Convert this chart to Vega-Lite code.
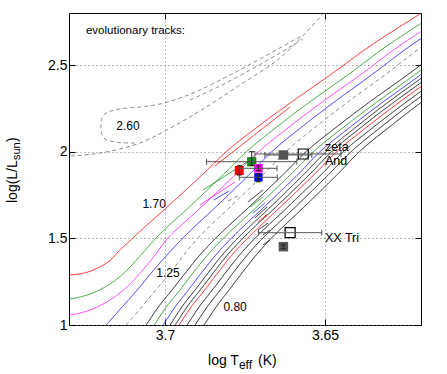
{
"$schema":"https://vega.github.io/schema/vega-lite/v6.json",
"width":352,"height":312,"autosize":"none",
"padding":{"left":69,"top":13,"right":26,"bottom":49},
"config":{"view":{"stroke":"black","strokeWidth":1},"font":"Liberation Sans"},
"datasets":{
"tracks":[
{"mass":"1.70","part":"main","i":0,"T":3.736,"L":1.286},{"mass":"1.70","part":"main","i":1,"T":3.7300,"L":1.2885},{"mass":"1.70","part":"main","i":2,"T":3.7241,"L":1.3058},{"mass":"1.70","part":"main","i":3,"T":3.7178,"L":1.3635},{"mass":"1.70","part":"main","i":4,"T":3.7141,"L":1.4327},{"mass":"1.70","part":"main","i":5,"T":3.7100,"L":1.5019},{"mass":"1.70","part":"main","i":6,"T":3.7053,"L":1.5827},{"mass":"1.70","part":"main","i":7,"T":3.7000,"L":1.6692},{"mass":"1.70","part":"main","i":8,"T":3.6881,"L":1.8712},{"mass":"1.70","part":"main","i":9,"T":3.6806,"L":2.0039},{"mass":"1.70","part":"main","i":10,"T":3.6703,"L":2.1539},{"mass":"1.70","part":"main","i":11,"T":3.6609,"L":2.2808},{"mass":"1.70","part":"main","i":12,"T":3.6484,"L":2.4423},{"mass":"1.70","part":"main","i":13,"T":3.6359,"L":2.6096},{"mass":"1.70","part":"main","i":14,"T":3.6203,"L":2.7943},
{"mass":"1.60","part":"main","i":0,"T":3.736,"L":1.148},{"mass":"1.60","part":"main","i":1,"T":3.7300,"L":1.150},{"mass":"1.60","part":"main","i":2,"T":3.7234,"L":1.1788},{"mass":"1.60","part":"main","i":3,"T":3.7172,"L":1.2365},{"mass":"1.60","part":"main","i":4,"T":3.7125,"L":1.3058},{"mass":"1.60","part":"main","i":5,"T":3.7078,"L":1.3981},{"mass":"1.60","part":"main","i":6,"T":3.7028,"L":1.5019},{"mass":"1.60","part":"main","i":7,"T":3.6983,"L":1.5827},{"mass":"1.60","part":"main","i":8,"T":3.6931,"L":1.6692},{"mass":"1.60","part":"main","i":9,"T":3.6816,"L":1.8712},{"mass":"1.60","part":"main","i":10,"T":3.6743,"L":2.0039},{"mass":"1.60","part":"main","i":11,"T":3.6643,"L":2.1539},{"mass":"1.60","part":"main","i":12,"T":3.6552,"L":2.2808},{"mass":"1.60","part":"main","i":13,"T":3.6429,"L":2.4423},{"mass":"1.60","part":"main","i":14,"T":3.6307,"L":2.6096},{"mass":"1.60","part":"main","i":15,"T":3.6154,"L":2.7943},
{"mass":"1.50","part":"main","i":0,"T":3.736,"L":1.056},{"mass":"1.50","part":"main","i":1,"T":3.7300,"L":1.0577},{"mass":"1.50","part":"main","i":2,"T":3.7234,"L":1.0865},{"mass":"1.50","part":"main","i":3,"T":3.7172,"L":1.1442},{"mass":"1.50","part":"main","i":4,"T":3.7119,"L":1.2192},{"mass":"1.50","part":"main","i":5,"T":3.7072,"L":1.3115},{"mass":"1.50","part":"main","i":6,"T":3.7031,"L":1.4038},{"mass":"1.50","part":"main","i":7,"T":3.6991,"L":1.5019},{"mass":"1.50","part":"main","i":8,"T":3.6945,"L":1.5827},{"mass":"1.50","part":"main","i":9,"T":3.6893,"L":1.6692},{"mass":"1.50","part":"main","i":10,"T":3.6778,"L":1.8712},{"mass":"1.50","part":"main","i":11,"T":3.6705,"L":2.0039},{"mass":"1.50","part":"main","i":12,"T":3.6604,"L":2.1539},{"mass":"1.50","part":"main","i":13,"T":3.6513,"L":2.2808},{"mass":"1.50","part":"main","i":14,"T":3.6390,"L":2.4423},{"mass":"1.50","part":"main","i":15,"T":3.6268,"L":2.6096},{"mass":"1.50","part":"main","i":16,"T":3.6114,"L":2.7943},
{"mass":"1.40","part":"main","i":0,"T":3.7184,"L":1.0},{"mass":"1.40","part":"main","i":1,"T":3.7134,"L":1.1038},{"mass":"1.40","part":"main","i":2,"T":3.7084,"L":1.2077},{"mass":"1.40","part":"main","i":3,"T":3.7038,"L":1.3115},{"mass":"1.40","part":"main","i":4,"T":3.6991,"L":1.4096},{"mass":"1.40","part":"main","i":5,"T":3.6944,"L":1.5019},{"mass":"1.40","part":"main","i":6,"T":3.6899,"L":1.5827},{"mass":"1.40","part":"main","i":7,"T":3.6848,"L":1.6692},{"mass":"1.40","part":"main","i":8,"T":3.6735,"L":1.8712},{"mass":"1.40","part":"main","i":9,"T":3.6664,"L":2.0039},{"mass":"1.40","part":"main","i":10,"T":3.6565,"L":2.1539},{"mass":"1.40","part":"main","i":11,"T":3.6475,"L":2.2808},{"mass":"1.40","part":"main","i":12,"T":3.6355,"L":2.4423},{"mass":"1.40","part":"main","i":13,"T":3.6234,"L":2.6096},{"mass":"1.40","part":"main","i":14,"T":3.6083,"L":2.7943},
{"mass":"1.25","part":"main","i":0,"T":3.7122,"L":1.0},{"mass":"1.25","part":"main","i":1,"T":3.7078,"L":1.0923},{"mass":"1.25","part":"main","i":2,"T":3.7031,"L":1.1962},{"mass":"1.25","part":"main","i":3,"T":3.6984,"L":1.300},{"mass":"1.25","part":"main","i":4,"T":3.6941,"L":1.4038},{"mass":"1.25","part":"main","i":5,"T":3.6897,"L":1.5019},{"mass":"1.25","part":"main","i":6,"T":3.6853,"L":1.5827},{"mass":"1.25","part":"main","i":7,"T":3.6803,"L":1.6692},{"mass":"1.25","part":"main","i":8,"T":3.6691,"L":1.8712},{"mass":"1.25","part":"main","i":9,"T":3.6620,"L":2.0039},{"mass":"1.25","part":"main","i":10,"T":3.6522,"L":2.1539},{"mass":"1.25","part":"main","i":11,"T":3.6433,"L":2.2808},{"mass":"1.25","part":"main","i":12,"T":3.6313,"L":2.4423},{"mass":"1.25","part":"main","i":13,"T":3.6194,"L":2.6096},{"mass":"1.25","part":"main","i":14,"T":3.6044,"L":2.7943},
{"mass":"1.20","part":"main","i":0,"T":3.7059,"L":1.0},{"mass":"1.20","part":"main","i":1,"T":3.7016,"L":1.1154},{"mass":"1.20","part":"main","i":2,"T":3.6978,"L":1.2019},{"mass":"1.20","part":"main","i":3,"T":3.6934,"L":1.3058},{"mass":"1.20","part":"main","i":4,"T":3.6891,"L":1.4038},{"mass":"1.20","part":"main","i":5,"T":3.6841,"L":1.5019},{"mass":"1.20","part":"main","i":6,"T":3.6795,"L":1.5827},{"mass":"1.20","part":"main","i":7,"T":3.6744,"L":1.6692},{"mass":"1.20","part":"main","i":8,"T":3.6629,"L":1.8712},{"mass":"1.20","part":"main","i":9,"T":3.6557,"L":2.0039},{"mass":"1.20","part":"main","i":10,"T":3.6456,"L":2.1539},{"mass":"1.20","part":"main","i":11,"T":3.6365,"L":2.2808},{"mass":"1.20","part":"main","i":12,"T":3.6243,"L":2.4423},{"mass":"1.20","part":"main","i":13,"T":3.6122,"L":2.6096},
{"mass":"1.15","part":"main","i":0,"T":3.7034,"L":1.0},{"mass":"1.15","part":"main","i":1,"T":3.6991,"L":1.1154},{"mass":"1.15","part":"main","i":2,"T":3.6953,"L":1.2019},{"mass":"1.15","part":"main","i":3,"T":3.6910,"L":1.3058},{"mass":"1.15","part":"main","i":4,"T":3.6867,"L":1.4038},{"mass":"1.15","part":"main","i":5,"T":3.6817,"L":1.5019},{"mass":"1.15","part":"main","i":6,"T":3.6771,"L":1.5827},{"mass":"1.15","part":"main","i":7,"T":3.6720,"L":1.6692},{"mass":"1.15","part":"main","i":8,"T":3.6606,"L":1.8712},{"mass":"1.15","part":"main","i":9,"T":3.6534,"L":2.0039},{"mass":"1.15","part":"main","i":10,"T":3.6433,"L":2.1539},{"mass":"1.15","part":"main","i":11,"T":3.6342,"L":2.2808},{"mass":"1.15","part":"main","i":12,"T":3.6221,"L":2.4423},{"mass":"1.15","part":"main","i":13,"T":3.6100,"L":2.6096},
{"mass":"1.10","part":"main","i":0,"T":3.7006,"L":1.0},{"mass":"1.10","part":"main","i":1,"T":3.6964,"L":1.1154},{"mass":"1.10","part":"main","i":2,"T":3.6927,"L":1.2019},{"mass":"1.10","part":"main","i":3,"T":3.6884,"L":1.3058},{"mass":"1.10","part":"main","i":4,"T":3.6841,"L":1.4038},{"mass":"1.10","part":"main","i":5,"T":3.6792,"L":1.5019},{"mass":"1.10","part":"main","i":6,"T":3.6747,"L":1.5827},{"mass":"1.10","part":"main","i":7,"T":3.6697,"L":1.6692},{"mass":"1.10","part":"main","i":8,"T":3.6583,"L":1.8712},{"mass":"1.10","part":"main","i":9,"T":3.6513,"L":2.0039},{"mass":"1.10","part":"main","i":10,"T":3.6413,"L":2.1539},{"mass":"1.10","part":"main","i":11,"T":3.6323,"L":2.2808},{"mass":"1.10","part":"main","i":12,"T":3.6202,"L":2.4423},{"mass":"1.10","part":"main","i":13,"T":3.6083,"L":2.6096},
{"mass":"1.05","part":"main","i":0,"T":3.6984,"L":1.0},{"mass":"1.05","part":"main","i":1,"T":3.6943,"L":1.1154},{"mass":"1.05","part":"main","i":2,"T":3.6906,"L":1.2019},{"mass":"1.05","part":"main","i":3,"T":3.6863,"L":1.3058},{"mass":"1.05","part":"main","i":4,"T":3.6821,"L":1.4038},{"mass":"1.05","part":"main","i":5,"T":3.6772,"L":1.5019},{"mass":"1.05","part":"main","i":6,"T":3.6727,"L":1.5827},{"mass":"1.05","part":"main","i":7,"T":3.6677,"L":1.6692},{"mass":"1.05","part":"main","i":8,"T":3.6565,"L":1.8712},{"mass":"1.05","part":"main","i":9,"T":3.6494,"L":2.0039},{"mass":"1.05","part":"main","i":10,"T":3.6395,"L":2.1539},{"mass":"1.05","part":"main","i":11,"T":3.6306,"L":2.2808},{"mass":"1.05","part":"main","i":12,"T":3.6186,"L":2.4423},{"mass":"1.05","part":"main","i":13,"T":3.6067,"L":2.6096},
{"mass":"1.00","part":"main","i":0,"T":3.6968,"L":1.0},{"mass":"1.00","part":"main","i":1,"T":3.6927,"L":1.1154},{"mass":"1.00","part":"main","i":2,"T":3.6890,"L":1.2019},{"mass":"1.00","part":"main","i":3,"T":3.6847,"L":1.3058},{"mass":"1.00","part":"main","i":4,"T":3.6805,"L":1.4038},{"mass":"1.00","part":"main","i":5,"T":3.6756,"L":1.5019},{"mass":"1.00","part":"main","i":6,"T":3.6711,"L":1.5827},{"mass":"1.00","part":"main","i":7,"T":3.6660,"L":1.6692},{"mass":"1.00","part":"main","i":8,"T":3.6547,"L":1.8712},{"mass":"1.00","part":"main","i":9,"T":3.6477,"L":2.0039},{"mass":"1.00","part":"main","i":10,"T":3.6378,"L":2.1539},{"mass":"1.00","part":"main","i":11,"T":3.6288,"L":2.2808},{"mass":"1.00","part":"main","i":12,"T":3.6167,"L":2.4423},{"mass":"1.00","part":"main","i":13,"T":3.6048,"L":2.6096},
{"mass":"0.95","part":"main","i":0,"T":3.6956,"L":1.0},{"mass":"0.95","part":"main","i":1,"T":3.6914,"L":1.1154},{"mass":"0.95","part":"main","i":2,"T":3.6876,"L":1.2019},{"mass":"0.95","part":"main","i":3,"T":3.6833,"L":1.3058},{"mass":"0.95","part":"main","i":4,"T":3.6791,"L":1.4038},{"mass":"0.95","part":"main","i":5,"T":3.6741,"L":1.5019},{"mass":"0.95","part":"main","i":6,"T":3.6696,"L":1.5827},{"mass":"0.95","part":"main","i":7,"T":3.6646,"L":1.6692},{"mass":"0.95","part":"main","i":8,"T":3.6532,"L":1.8712},{"mass":"0.95","part":"main","i":9,"T":3.6461,"L":2.0039},{"mass":"0.95","part":"main","i":10,"T":3.6361,"L":2.1539},{"mass":"0.95","part":"main","i":11,"T":3.6271,"L":2.2808},{"mass":"0.95","part":"main","i":12,"T":3.6150,"L":2.4423},{"mass":"0.95","part":"main","i":13,"T":3.6030,"L":2.6096},
{"mass":"0.90","part":"main","i":0,"T":3.6931,"L":1.0},{"mass":"0.90","part":"main","i":1,"T":3.6889,"L":1.1154},{"mass":"0.90","part":"main","i":2,"T":3.6852,"L":1.2019},{"mass":"0.90","part":"main","i":3,"T":3.6809,"L":1.3058},{"mass":"0.90","part":"main","i":4,"T":3.6767,"L":1.4038},{"mass":"0.90","part":"main","i":5,"T":3.6718,"L":1.5019},{"mass":"0.90","part":"main","i":6,"T":3.6673,"L":1.5827},{"mass":"0.90","part":"main","i":7,"T":3.6623,"L":1.6692},{"mass":"0.90","part":"main","i":8,"T":3.6510,"L":1.8712},{"mass":"0.90","part":"main","i":9,"T":3.6440,"L":2.0039},{"mass":"0.90","part":"main","i":10,"T":3.6340,"L":2.1539},{"mass":"0.90","part":"main","i":11,"T":3.6250,"L":2.2808},{"mass":"0.90","part":"main","i":12,"T":3.6130,"L":2.4423},{"mass":"0.90","part":"main","i":13,"T":3.6011,"L":2.6096},
{"mass":"0.85","part":"main","i":0,"T":3.6906,"L":1.0},{"mass":"0.85","part":"main","i":1,"T":3.6864,"L":1.1154},{"mass":"0.85","part":"main","i":2,"T":3.6827,"L":1.2019},{"mass":"0.85","part":"main","i":3,"T":3.6785,"L":1.3058},{"mass":"0.85","part":"main","i":4,"T":3.6743,"L":1.4038},{"mass":"0.85","part":"main","i":5,"T":3.6694,"L":1.5019},{"mass":"0.85","part":"main","i":6,"T":3.6649,"L":1.5827},{"mass":"0.85","part":"main","i":7,"T":3.6599,"L":1.6692},{"mass":"0.85","part":"main","i":8,"T":3.6487,"L":1.8712},{"mass":"0.85","part":"main","i":9,"T":3.6416,"L":2.0039},{"mass":"0.85","part":"main","i":10,"T":3.6317,"L":2.1539},{"mass":"0.85","part":"main","i":11,"T":3.6228,"L":2.2808},{"mass":"0.85","part":"main","i":12,"T":3.6107,"L":2.4423},{"mass":"0.85","part":"main","i":13,"T":3.5989,"L":2.6096},
{"mass":"0.80","part":"main","i":0,"T":3.6878,"L":1.0},{"mass":"0.80","part":"main","i":1,"T":3.6836,"L":1.1154},{"mass":"0.80","part":"main","i":2,"T":3.6800,"L":1.2019},{"mass":"0.80","part":"main","i":3,"T":3.6757,"L":1.3058},{"mass":"0.80","part":"main","i":4,"T":3.6715,"L":1.4038},{"mass":"0.80","part":"main","i":5,"T":3.6667,"L":1.5019},{"mass":"0.80","part":"main","i":6,"T":3.6622,"L":1.5827},{"mass":"0.80","part":"main","i":7,"T":3.6572,"L":1.6692},{"mass":"0.80","part":"main","i":8,"T":3.6460,"L":1.8712},{"mass":"0.80","part":"main","i":9,"T":3.6390,"L":2.0039},{"mass":"0.80","part":"main","i":10,"T":3.6291,"L":2.1539},{"mass":"0.80","part":"main","i":11,"T":3.6202,"L":2.2808},{"mass":"0.80","part":"main","i":12,"T":3.6082,"L":2.4423},{"mass":"0.80","part":"main","i":13,"T":3.5963,"L":2.6096},
{"mass":"2.60","part":"a","i":0,"T":3.736,"L":1.972},{"mass":"2.60","part":"a","i":1,"T":3.7300,"L":1.975},{"mass":"2.60","part":"a","i":2,"T":3.7250,"L":1.9808},{"mass":"2.60","part":"a","i":3,"T":3.7203,"L":1.9923},{"mass":"2.60","part":"a","i":4,"T":3.7141,"L":2.0154},{"mass":"2.60","part":"a","i":5,"T":3.7078,"L":2.05},{"mass":"2.60","part":"a","i":6,"T":3.7000,"L":2.1192},{"mass":"2.60","part":"a","i":7,"T":3.6891,"L":2.2346},{"mass":"2.60","part":"a","i":8,"T":3.6766,"L":2.3846},{"mass":"2.60","part":"a","i":9,"T":3.6641,"L":2.5404},{"mass":"2.60","part":"a","i":10,"T":3.6506,"L":2.7943},
{"mass":"2.60","part":"b","i":0,"T":3.7094,"L":2.05},{"mass":"2.60","part":"b","i":1,"T":3.7156,"L":2.0558},{"mass":"2.60","part":"b","i":2,"T":3.7191,"L":2.0788},{"mass":"2.60","part":"b","i":3,"T":3.7200,"L":2.1365},{"mass":"2.60","part":"b","i":4,"T":3.7197,"L":2.1942},{"mass":"2.60","part":"b","i":5,"T":3.7184,"L":2.2231},{"mass":"2.60","part":"b","i":6,"T":3.7141,"L":2.2462},{"mass":"2.60","part":"b","i":7,"T":3.7078,"L":2.2577},{"mass":"2.60","part":"b","i":8,"T":3.7016,"L":2.275},{"mass":"2.60","part":"b","i":9,"T":3.6953,"L":2.3096},{"mass":"2.60","part":"b","i":10,"T":3.6891,"L":2.3558},{"mass":"2.60","part":"b","i":11,"T":3.6797,"L":2.4423},{"mass":"2.60","part":"b","i":12,"T":3.6703,"L":2.5346},{"mass":"2.60","part":"b","i":13,"T":3.6569,"L":2.6731},
{"mass":"2.60","part":"c","i":0,"T":3.6922,"L":2.2981},{"mass":"2.60","part":"c","i":1,"T":3.6828,"L":2.3789},{"mass":"2.60","part":"c","i":2,"T":3.6734,"L":2.4712},{"mass":"2.60","part":"c","i":3,"T":3.6641,"L":2.5692},{"mass":"2.60","part":"c","i":4,"T":3.6569,"L":2.65},
{"mass":"1.70","part":"loop","i":0,"T":3.6844,"L":1.9173},{"mass":"1.70","part":"loop","i":1,"T":3.6609,"L":2.2577},
{"mass":"1.60","part":"loop","i":0,"T":3.6881,"L":1.7789},{"mass":"1.60","part":"loop","i":1,"T":3.6719,"L":1.9692},
{"mass":"1.50","part":"loop","i":0,"T":3.6891,"L":1.6923},{"mass":"1.50","part":"loop","i":1,"T":3.6781,"L":1.825},
{"mass":"1.40","part":"loop","i":0,"T":3.6847,"L":1.7212},{"mass":"1.40","part":"loop","i":1,"T":3.6800,"L":1.7731},
{"mass":"1.25","part":"loop","i":0,"T":3.6803,"L":1.7154},{"mass":"1.25","part":"loop","i":1,"T":3.6766,"L":1.75},
{"mass":"1.20","part":"loop","i":0,"T":3.6741,"L":1.7096},{"mass":"1.20","part":"loop","i":1,"T":3.6694,"L":1.7789},
{"mass":"1.15","part":"loop","i":0,"T":3.6734,"L":1.6808},{"mass":"1.15","part":"loop","i":1,"T":3.6694,"L":1.7385},
{"mass":"1.10","part":"loop","i":0,"T":3.6725,"L":1.6462},{"mass":"1.10","part":"loop","i":1,"T":3.6688,"L":1.7038},
{"mass":"1.05","part":"loop","i":0,"T":3.6719,"L":1.6173},{"mass":"1.05","part":"loop","i":1,"T":3.6681,"L":1.6817},
{"mass":"0.95","part":"loop","i":0,"T":3.6709,"L":1.5942},{"mass":"0.95","part":"loop","i":1,"T":3.6681,"L":1.6385},
{"mass":"0.90","part":"loop","i":0,"T":3.6709,"L":1.5481},{"mass":"0.90","part":"loop","i":1,"T":3.6678,"L":1.5885},
{"mass":"0.85","part":"loop","i":0,"T":3.6694,"L":1.5192},{"mass":"0.85","part":"loop","i":1,"T":3.6672,"L":1.5481},
{"mass":"0.80","part":"loop","i":0,"T":3.6694,"L":1.4615},{"mass":"0.80","part":"loop","i":1,"T":3.6672,"L":1.4904}
],
"stars":[
{"star":"zeta And","kind":"observed","T":3.6568,"L":1.9866,"Tlo":3.6719,"Thi":3.6450},
{"star":"zeta And","kind":"model","T":3.6630,"L":1.9808,"Tlo":3.6688,"Thi":3.6541},
{"star":"zeta And","kind":"A","T":3.6729,"L":1.9421,"Tlo":3.6870,"Thi":3.6588,"Llo":1.92,"Lhi":2.0},
{"star":"zeta And","kind":"B","T":3.6768,"L":1.8914,"Llo":1.865,"Lhi":1.919},
{"star":"zeta And","kind":"C","T":3.6708,"L":1.904,"Tlo":3.6766,"Thi":3.665,"Llo":1.89,"Lhi":1.918},
{"star":"zeta And","kind":"D","T":3.6708,"L":1.8521,"Tlo":3.6768,"Thi":3.6649,"Llo":1.826,"Lhi":1.871},
{"star":"XX Tri","kind":"observed","T":3.6609,"L":1.5325,"Tlo":3.6708,"Thi":3.6510},
{"star":"XX Tri","kind":"model","T":3.6630,"L":1.4517,"Llo":1.44,"Lhi":1.463}
],
"labels":[
{"text":"evolutionary tracks:","role":"note","T":3.7247,"L":2.6962},
{"text":"2.60","role":"mass","T":3.7116,"L":2.1481},
{"text":"1.70","role":"mass","T":3.7034,"L":1.6981},
{"text":"1.25","role":"mass","T":3.6991,"L":1.30},
{"text":"0.80","role":"mass","T":3.6781,"L":1.1038},
{"text":"zeta","role":"star","T":3.65,"L":2.0255},
{"text":"And","role":"star","T":3.65,"L":1.9433},
{"text":"XX Tri","role":"star","T":3.65,"L":1.5019},
{"text":"log T","role":"xmain","T":3.6769,"L":0.7692},
{"text":"eff","role":"xsub","T":3.6769,"L":0.7462},
{"text":"(K)","role":"xend","T":3.6709,"L":0.7692},
{"text":"log(L/L","role":"ymain","T":3.7463,"L":1.7038},
{"text":"sun","role":"ysub","T":3.7453,"L":1.9519},
{"text":")","role":"ymain","T":3.7463,"L":2.0558}
]
},
"layer":[
{"data":{"name":"tracks"},
 "mark":{"type":"line","clip":true,"interpolate":"catmull-rom"},
 "encoding":{
  "x":{"field":"T","type":"quantitative","scale":{"domain":[3.62,3.73],"reverse":true,"zero":false,"nice":false},
   "axis":{"orient":"bottom","values":[3.7,3.65],"format":"~g","title":null,"grid":true,"gridDash":[1,3],"gridColor":"#777","gridOpacity":1,"domain":false,"tickSize":-6,"tickColor":"black","labelPadding":9,"labelFontSize":14,"labelColor":"black","labelFont":"Liberation Sans"}},
  "y":{"field":"L","type":"quantitative","scale":{"domain":[1,2.8],"zero":false,"nice":false},
   "axis":{"orient":"left","values":[1,1.5,2,2.5],"format":"~g","title":null,"grid":true,"gridDash":[1,3],"gridColor":"#777","gridOpacity":1,"domain":false,"tickSize":-6,"tickColor":"black","labelPadding":8,"labelFontSize":14,"labelColor":"black","labelFont":"Liberation Sans"}},
  "color":{"field":"mass","type":"nominal","legend":null,"scale":{"domain":["2.60","1.70","1.60","1.50","1.40","1.25","1.20","1.15","1.10","1.05","1.00","0.95","0.90","0.85","0.80"],"range":["#8c8c8c","#ff2020","#30a030","#ff30ff","#3030ff","#8c8c8c","#202020","#30a030","#3030ff","#202020","#202020","#ff2020","#202020","#202020","#202020"]}},
  "strokeDash":{"field":"mass","type":"nominal","legend":null,"scale":{"domain":["2.60","1.70","1.60","1.50","1.40","1.25","1.20","1.15","1.10","1.05","1.00","0.95","0.90","0.85","0.80"],"range":[[4,3],[1,0],[1,0],[1,0],[1,0],[4,3],[1,0],[1,0],[1,0],[1,0],[1,0],[1,0],[1,0],[1,0],[1,0]]}},
  "strokeWidth":{"field":"part","type":"nominal","legend":null,"scale":{"domain":["main","a","b","c","loop"],"range":[1,1,1,1,2.4]}},
  "order":{"field":"i","type":"quantitative"}
 }},
{"data":{"name":"stars"},"transform":[{"filter":"datum.kind != 'observed'"}],
 "mark":{"type":"point","shape":"square","filled":true,"opacity":1},
 "encoding":{
  "x":{"field":"T","type":"quantitative","axis":{"orient":"top","values":[3.7,3.65],"labels":false,"grid":false,"domain":false,"tickSize":-6,"tickColor":"black","title":null}},
  "y":{"field":"L","type":"quantitative","axis":{"orient":"right","values":[1,1.5,2,2.5],"labels":false,"grid":false,"domain":false,"tickSize":-6,"tickColor":"black","title":null}},
  "fill":{"field":"kind","type":"nominal","legend":null,"scale":{"domain":["model","A","B","C","D"],"range":["#555555","#1a8a1a","#ff0000","#ff00ff","#0000ff"]}},
  "size":{"field":"kind","type":"nominal","legend":null,"scale":{"domain":["model","A","B","C","D"],"range":[90,70,150,70,55]}}
 }},
{"data":{"name":"stars"},"transform":[{"filter":"datum.kind == 'observed'"}],
 "mark":{"type":"point","shape":"square","filled":false,"stroke":"black","strokeWidth":1.2,"size":100,"opacity":1},
 "encoding":{"x":{"field":"T","type":"quantitative","axis":null},"y":{"field":"L","type":"quantitative","axis":null}}},
{"data":{"name":"stars"},"transform":[{"filter":"isValid(datum.Tlo)"}],
 "mark":{"type":"rule","color":"#555555","strokeWidth":1},
 "encoding":{"x":{"field":"Tlo","type":"quantitative","axis":null},"x2":{"field":"Thi"},"y":{"field":"L","type":"quantitative","axis":null}}},
{"data":{"name":"stars"},"transform":[{"filter":"isValid(datum.Llo)"}],
 "mark":{"type":"rule","color":"#222222","strokeWidth":1},
 "encoding":{"y":{"field":"Llo","type":"quantitative","axis":null},"y2":{"field":"Lhi"},"x":{"field":"T","type":"quantitative","axis":null}}},
{"data":{"name":"stars"},"transform":[{"filter":"isValid(datum.Tlo)"}],
 "mark":{"type":"point","shape":"M0,-1L0,1","filled":false,"stroke":"#555555","strokeWidth":1,"size":36,"opacity":1},
 "encoding":{"x":{"field":"Tlo","type":"quantitative","axis":null},"y":{"field":"L","type":"quantitative","axis":null}}},
{"data":{"name":"stars"},"transform":[{"filter":"isValid(datum.Thi)"}],
 "mark":{"type":"point","shape":"M0,-1L0,1","filled":false,"stroke":"#555555","strokeWidth":1,"size":36,"opacity":1},
 "encoding":{"x":{"field":"Thi","type":"quantitative","axis":null},"y":{"field":"L","type":"quantitative","axis":null}}},
{"data":{"name":"stars"},"transform":[{"filter":"isValid(datum.Llo)"}],
 "mark":{"type":"point","shape":"M-1,0L1,0","filled":false,"stroke":"#222222","strokeWidth":1,"size":25,"opacity":1},
 "encoding":{"x":{"field":"T","type":"quantitative","axis":null},"y":{"field":"Llo","type":"quantitative","axis":null}}},
{"data":{"name":"stars"},"transform":[{"filter":"isValid(datum.Lhi)"}],
 "mark":{"type":"point","shape":"M-1,0L1,0","filled":false,"stroke":"#222222","strokeWidth":1,"size":25,"opacity":1},
 "encoding":{"x":{"field":"T","type":"quantitative","axis":null},"y":{"field":"Lhi","type":"quantitative","axis":null}}},
{"data":{"name":"labels"},"transform":[{"filter":"datum.role == 'note'"}],
 "mark":{"type":"text","align":"left","baseline":"middle","fontSize":11.5,"color":"black","font":"Liberation Sans"},
 "encoding":{"x":{"field":"T","type":"quantitative","axis":null},"y":{"field":"L","type":"quantitative","axis":null},"text":{"field":"text"}}},
{"data":{"name":"labels"},"transform":[{"filter":"datum.role == 'mass'"}],
 "mark":{"type":"text","align":"center","baseline":"middle","fontSize":12,"color":"black","font":"Liberation Sans"},
 "encoding":{"x":{"field":"T","type":"quantitative","axis":null},"y":{"field":"L","type":"quantitative","axis":null},"text":{"field":"text"}}},
{"data":{"name":"labels"},"transform":[{"filter":"datum.role == 'star'"}],
 "mark":{"type":"text","align":"left","baseline":"middle","fontSize":12.5,"color":"black","font":"Liberation Sans"},
 "encoding":{"x":{"field":"T","type":"quantitative","axis":null},"y":{"field":"L","type":"quantitative","axis":null},"text":{"field":"text"}}},
{"data":{"name":"labels"},"transform":[{"filter":"datum.role == 'xmain'"}],
 "mark":{"type":"text","align":"right","baseline":"alphabetic","fontSize":14,"color":"black","font":"Liberation Sans"},
 "encoding":{"x":{"field":"T","type":"quantitative","axis":null},"y":{"field":"L","type":"quantitative","axis":null},"text":{"field":"text"}}},
{"data":{"name":"labels"},"transform":[{"filter":"datum.role == 'xsub'"}],
 "mark":{"type":"text","align":"left","baseline":"alphabetic","fontSize":12,"color":"black","font":"Liberation Sans"},
 "encoding":{"x":{"field":"T","type":"quantitative","axis":null},"y":{"field":"L","type":"quantitative","axis":null},"text":{"field":"text"}}},
{"data":{"name":"labels"},"transform":[{"filter":"datum.role == 'xend'"}],
 "mark":{"type":"text","align":"left","baseline":"alphabetic","fontSize":14,"color":"black","font":"Liberation Sans"},
 "encoding":{"x":{"field":"T","type":"quantitative","axis":null},"y":{"field":"L","type":"quantitative","axis":null},"text":{"field":"text"}}},
{"data":{"name":"labels"},"transform":[{"filter":"datum.role == 'ymain'"}],
 "mark":{"type":"text","align":"left","baseline":"alphabetic","angle":270,"fontSize":14,"color":"black","font":"Liberation Sans"},
 "encoding":{"x":{"field":"T","type":"quantitative","axis":null},"y":{"field":"L","type":"quantitative","axis":null},"text":{"field":"text"}}},
{"data":{"name":"labels"},"transform":[{"filter":"datum.role == 'ysub'"}],
 "mark":{"type":"text","align":"left","baseline":"alphabetic","angle":270,"fontSize":11,"color":"black","font":"Liberation Sans"},
 "encoding":{"x":{"field":"T","type":"quantitative","axis":null},"y":{"field":"L","type":"quantitative","axis":null},"text":{"field":"text"}}}
],
"resolve":{"axis":{"x":"independent","y":"independent"}}
}
